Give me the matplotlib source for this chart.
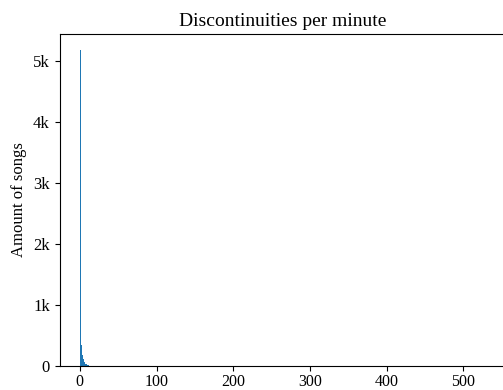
import numpy as np
import matplotlib

matplotlib.use("Agg")
import matplotlib.pyplot as plt
from matplotlib.ticker import FuncFormatter

plt.rcParams["font.family"] = ["Liberation Serif", "DejaVu Serif"]
plt.rcParams["font.size"] = 12

# histogram of discontinuities per minute
bin_width = 1.32                      # width of one histogram bin
head_counts = [5190, 350, 180, 110, 65, 40, 25, 15, 10, 8]  # first bins
tail_count = 8                        # thin strip of rare songs out to the max
max_value = 529                       # largest discontinuities-per-minute value

head_edges = np.arange(len(head_counts) + 1) * bin_width
edges = np.append(head_edges, max_value)
counts = head_counts + [tail_count]

fig = plt.figure(figsize=(5.03, 3.90), dpi=100)
ax = fig.add_axes([59.5 / 503, 24 / 390, 446.5 / 503, 332 / 390])
ax.hist(edges[:-1], bins=edges, weights=counts, color="#1f77b4")
ax.set_title("Discontinuities per minute", fontsize=14)
ax.set_ylabel("Amount of songs")
ax.yaxis.set_major_formatter(
    FuncFormatter(lambda v, _: "0" if v == 0 else f"{v / 1000:g}k"))
ax.set_xticks([0, 100, 200, 300, 400, 500])
ax.set_yticks([0, 1000, 2000, 3000, 4000, 5000])
ax.tick_params(axis="x", labelsize=11.5, pad=2.5)

fig.savefig("out.png", dpi=100)
